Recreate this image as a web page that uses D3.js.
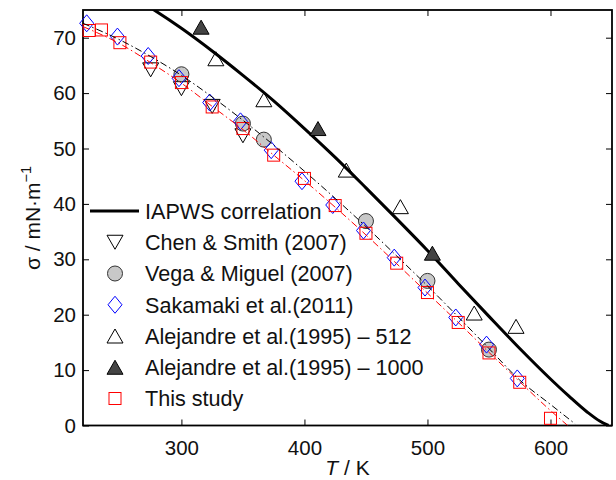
<!DOCTYPE html>
<html><head><meta charset="utf-8">
<script src="https://cdn.jsdelivr.net/npm/d3@7"></script>
<style>body{margin:0;background:#fff}svg{display:block}</style>
</head><body>
<svg id="c" width="616" height="480"></svg>
<script>
// ---- data ----
const xTicks = [300, 400, 500, 600];
const yTicks = [0, 10, 20, 30, 40, 50, 60, 70];

const iapwsT = [270, 275, 300, 325, 350, 375, 400, 425, 450, 475, 500, 525, 550, 575, 600, 615, 630, 640, 647.1];
const iapwsS = [76.1, 75.4, 71.7, 67.6, 63.2, 58.6, 53.6, 48.4, 42.9, 37.3, 31.6, 25.6, 19.7, 13.9, 8.4, 5.3, 2.4, 0.8, 0];

const chenT = [275, 300, 325, 350];
const chenS = [64.2, 60.8, 57.6, 52.3];

const vegaT = [300, 350, 367, 450, 500, 550];
const vegaS = [63.4, 54.5, 51.6, 36.9, 26.1, 13.7];

const sakT = [223, 248, 273, 298, 323, 348, 373, 398, 423, 448, 473, 498, 523, 548, 573];
const sakS = [72.6, 70.2, 66.7, 62.7, 58.3, 54.9, 49.7, 44.1, 39.8, 35.2, 30.3, 24.9, 19.5, 14.6, 8.5];

const ale512T = [328, 367, 434, 478, 538, 572];
const ale512S = [66.2, 58.8, 46.1, 39.5, 20.3, 17.9];

const ale1000T = [316, 411, 504];
const ale1000S = [71.9, 53.6, 31.1];

const thisT = [225, 235, 250, 275, 300, 325, 350, 375, 400, 425, 450, 475, 500, 525, 550, 575, 600];
const thisS = [71.3, 71.4, 69.1, 65.6, 61.9, 57.5, 53.6, 48.8, 44.6, 39.7, 34.7, 29.3, 24.0, 18.6, 13.1, 7.8, 1.3];

const fitThisT = [220, 250, 275, 300, 325, 350, 375, 400, 425, 450, 475, 500, 525, 550, 575, 600, 614];
const fitThisS = [72.0, 68.9, 65.5, 61.8, 57.6, 53.4, 48.8, 44.2, 39.4, 34.4, 29.2, 23.9, 18.6, 13.2, 7.9, 2.7, 0];

const fitLitT = [220, 250, 275, 300, 325, 350, 375, 400, 425, 450, 475, 500, 525, 550, 575, 600, 620];
const fitLitS = [72.6, 69.6, 66.6, 63.2, 59.3, 55.1, 50.6, 45.9, 41.0, 35.9, 30.6, 25.2, 19.6, 13.9, 8.2, 3.8, 0.3];

const legendLabels = ["IAPWS correlation", "Chen & Smith (2007)", "Vega & Miguel (2007)",
  "Sakamaki et al.(2011)", "Alejandre et al.(1995) \u2013 512", "Alejandre et al.(1995) \u2013 1000", "This study"];

// ---- layout ----
const L = 83, R = 612, T = 10, B = 425.5;
const FONT = "'Liberation Sans', Arial, Helvetica, sans-serif";
const svg = d3.select("#c");
const x = d3.scaleLinear().domain([220, 650]).range([L, R]);
const y = d3.scaleLinear().domain([0, 75]).range([B, T]);
const zip = (a, b) => a.map((v, i) => [v, b[i]]);

svg.append("defs").append("clipPath").attr("id", "clip")
  .append("rect").attr("x", L).attr("y", T).attr("width", R - L).attr("height", B - T);

// axes (ticks inward)
const axStyle = g => {
  g.selectAll(".domain").remove();
  g.selectAll(".tick line").attr("stroke", "#000").attr("stroke-width", 1);
  g.selectAll(".tick text").attr("font-family", FONT).attr("font-size", 20.5).attr("fill", "#111");
};
svg.append("g").attr("transform", `translate(0,${B})`)
  .call(d3.axisBottom(x).tickValues(xTicks).tickSizeInner(-6).tickSizeOuter(0).tickPadding(15).tickFormat(d3.format("d")))
  .call(axStyle);
svg.append("g").attr("transform", `translate(0,${T})`)
  .call(d3.axisTop(x).tickValues(xTicks).tickSizeInner(-6).tickSizeOuter(0).tickFormat(""))
  .call(axStyle);
svg.append("g").attr("transform", `translate(${L},0)`)
  .call(d3.axisLeft(y).tickValues(yTicks).tickSizeInner(-6).tickSizeOuter(0).tickPadding(7).tickFormat(d3.format("d")))
  .call(axStyle);
svg.append("g").attr("transform", `translate(${R},0)`)
  .call(d3.axisRight(y).tickValues(yTicks).tickSizeInner(-6).tickSizeOuter(0).tickFormat(""))
  .call(axStyle);

// frame
svg.append("rect").attr("x", L).attr("y", T).attr("width", R - L).attr("height", B - T)
  .attr("fill", "none").attr("stroke", "#000").attr("stroke-width", 1.8);

// IAPWS line
const line = d3.line().x(d => x(d[0])).y(d => y(d[1])).curve(d3.curveMonotoneX);
svg.append("path").attr("clip-path", "url(#clip)").attr("d", line(zip(iapwsT, iapwsS)))
  .attr("fill", "none").attr("stroke", "#000").attr("stroke-width", 3);

// marker drawers
function tri(g, cx, cy, up, fill) {
  const w = 8, h = 7;
  const pts = up ? [[cx - w, cy + h], [cx + w, cy + h], [cx, cy - h]]
                 : [[cx - w, cy - h], [cx + w, cy - h], [cx, cy + h]];
  g.append("polygon").attr("points", pts.map(p => p.join(",")).join(" "))
    .attr("fill", fill).attr("stroke", "#000").attr("stroke-width", 1);
}
function circ(g, cx, cy) {
  g.append("circle").attr("cx", cx).attr("cy", cy).attr("r", 7.5)
    .attr("fill", "#c8c8c8").attr("stroke", "#333").attr("stroke-width", 1);
}
function diam(g, cx, cy) {
  const w = 7, h = 8.5;
  g.append("polygon").attr("points", [[cx, cy - h], [cx + w, cy], [cx, cy + h], [cx - w, cy]].map(p => p.join(",")).join(" "))
    .attr("fill", "none").attr("stroke", "#0000ff").attr("stroke-width", 1);
}
function sq(g, cx, cy) {
  g.append("rect").attr("x", cx - 6).attr("y", cy - 6).attr("width", 12).attr("height", 12)
    .attr("fill", "none").attr("stroke", "#ff0000").attr("stroke-width", 1);
}

const mk = svg.append("g");
zip(chenT, chenS).forEach(d => tri(mk, x(d[0]), y(d[1]), false, "none"));
zip(vegaT, vegaS).forEach(d => circ(mk, x(d[0]), y(d[1])));
zip(sakT, sakS).forEach(d => diam(mk, x(d[0]), y(d[1])));
zip(ale512T, ale512S).forEach(d => tri(mk, x(d[0]), y(d[1]), true, "none"));
zip(ale1000T, ale1000S).forEach(d => tri(mk, x(d[0]), y(d[1]), true, "#444"));
zip(thisT, thisS).forEach(d => sq(mk, x(d[0]), y(d[1])));

// dash-dot fits
const lineL = d3.line().x(d => x(d[0])).y(d => y(d[1])).curve(d3.curveMonotoneX);
svg.append("path").attr("clip-path", "url(#clip)").attr("d", lineL(zip(fitLitT, fitLitS)))
  .attr("fill", "none").attr("stroke", "#000").attr("stroke-width", 1).attr("stroke-dasharray", "7,3,1.5,3");
svg.append("path").attr("clip-path", "url(#clip)").attr("d", lineL(zip(fitThisT, fitThisS)))
  .attr("fill", "none").attr("stroke", "#ff0000").attr("stroke-width", 1).attr("stroke-dasharray", "7,3,1.5,3");

// legend
const lg = svg.append("g");
const ly0 = 211, ldy = 31.25, mx = 115;
legendLabels.forEach((t, i) => {
  const yy = ly0 + i * ldy;
  lg.append("text").attr("x", 145).attr("y", yy).attr("dy", "0.36em")
    .attr("font-family", FONT).attr("font-size", 21.6).attr("fill", "#111").text(t);
});
lg.append("line").attr("x1", 90).attr("x2", 139).attr("y1", ly0).attr("y2", ly0)
  .attr("stroke", "#000").attr("stroke-width", 3);
tri(lg, mx, ly0 + ldy, false, "none");
circ(lg, mx, ly0 + 2 * ldy);
diam(lg, mx, ly0 + 3 * ldy);
tri(lg, mx, ly0 + 4 * ldy, true, "none");
tri(lg, mx, ly0 + 5 * ldy, true, "#444");
sq(lg, mx, ly0 + 6 * ldy);

// axis labels
const xl = svg.append("text").attr("x", (L + R) / 2).attr("y", 475).attr("text-anchor", "middle")
  .attr("font-family", FONT).attr("font-size", 21).attr("fill", "#111");
xl.append("tspan").attr("font-style", "italic").text("T");
xl.append("tspan").text(" / K");

const yl = svg.append("text").attr("transform", "translate(40,218) rotate(-90)").attr("text-anchor", "middle")
  .attr("font-family", FONT).attr("font-size", 21).attr("fill", "#111");
yl.append("tspan").text("\u03c3 / mN\u00b7m");
yl.append("tspan").attr("font-size", 14.5).attr("dy", "-0.6em").text("\u22121");
</script>
</body></html>
